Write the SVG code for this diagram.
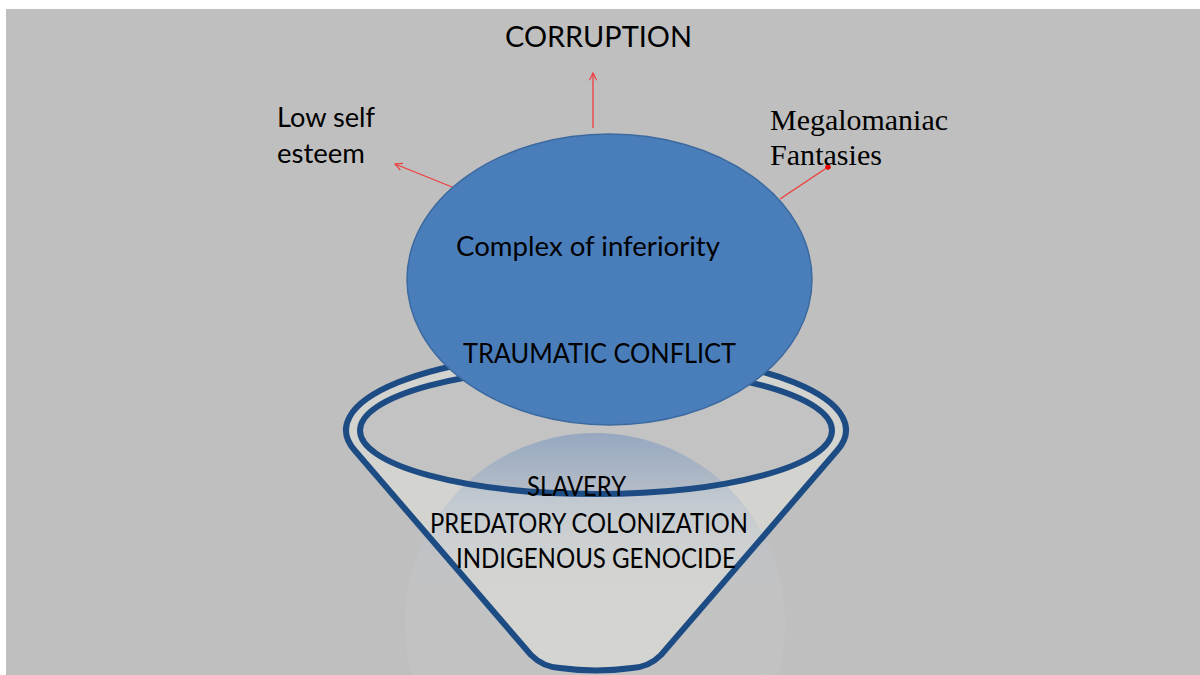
<svg xmlns="http://www.w3.org/2000/svg" width="1200" height="675" viewBox="0 0 1200 675">
  <style>
    .sans { font-family: Lato, "Open Sans", "Liberation Sans", sans-serif; fill: #000; }
    .serif { font-family: "Liberation Serif", "Times New Roman", serif; fill: #000; }
    .conn { stroke: #f03c3c; stroke-width: 1.3; fill: none; }
    .rim { stroke: #1d4c84; stroke-width: 6; fill: none; }
  </style>
  <defs>
    <marker id="openArrow" viewBox="0 0 10 10" refX="9" refY="5" markerWidth="9" markerHeight="9" markerUnits="userSpaceOnUse" orient="auto">
      <path d="M1,1 L9,5 L1,9" fill="none" stroke="#f03c3c" stroke-width="1.3"/>
    </marker>
    <marker id="dot" viewBox="0 0 10 10" refX="5" refY="5" markerWidth="6" markerHeight="6" markerUnits="userSpaceOnUse" orient="auto">
      <circle cx="5" cy="5" r="4.5" fill="#e80000"/>
    </marker>
    <linearGradient id="sphereGrad" x1="0" y1="0" x2="0" y2="1">
      <stop offset="0" stop-color="#5f86bd" stop-opacity="0.45"/>
      <stop offset="0.2" stop-color="#a9bbd2" stop-opacity="0.35"/>
      <stop offset="0.4" stop-color="#d4d8dc" stop-opacity="0.15"/>
      <stop offset="1" stop-color="#e0e0e0" stop-opacity="0.05"/>
    </linearGradient>
  </defs>

  <rect x="0" y="0" width="1200" height="675" fill="#ffffff"/>
  <rect x="6" y="9" width="1194" height="666" fill="#bfbfbf"/>

  <g id="funnel">
    <path d="M354.6,450.3 L531,655 Q543,667 560,668 Q596,673 632,668 Q649,667 661,655 L837.4,450.3 A250,78 0 1 0 354.6,450.3 Z" fill="#d3d3cf"/>
    <ellipse cx="596" cy="430.5" rx="236" ry="63.5" fill="#c3c3c3"/>
    <circle cx="595" cy="623" r="190" fill="url(#sphereGrad)"/>
    <path class="rim" d="M354.6,450.3 L531,655 Q543,667 560,668 Q596,673 632,668 Q649,667 661,655 L837.4,450.3 A250,78 0 1 0 354.6,450.3 Z"/>
    <ellipse class="rim" cx="596" cy="430.5" rx="236" ry="63.5"/>
    <text class="sans" x="527" y="496" font-size="27" textLength="99" lengthAdjust="spacingAndGlyphs">SLAVERY</text>
    <text class="sans" x="430" y="533" font-size="27" textLength="318" lengthAdjust="spacingAndGlyphs">PREDATORY COLONIZATION</text>
    <text class="sans" x="456" y="568" font-size="27" textLength="280" lengthAdjust="spacingAndGlyphs">INDIGENOUS GENOCIDE</text>
  </g>

  <g id="core">
    <ellipse cx="609.5" cy="279.5" rx="202.5" ry="145.5" fill="#4a7ebb" stroke="#3c6a9f" stroke-width="1.5"/>
    <text class="sans" x="456" y="256" font-size="26" textLength="264" lengthAdjust="spacingAndGlyphs">Complex of inferiority</text>
    <text class="sans" x="463" y="363" font-size="26" textLength="273" lengthAdjust="spacingAndGlyphs">TRAUMATIC CONFLICT</text>
  </g>

  <g id="connectors">
    <line class="conn" x1="593" y1="128" x2="593" y2="73" marker-end="url(#openArrow)"/>
    <line class="conn" x1="452" y1="187" x2="395" y2="164" marker-end="url(#openArrow)"/>
    <line class="conn" x1="780" y1="199" x2="828" y2="167" marker-end="url(#dot)"/>
  </g>

  <g id="corruption">
    <text class="sans" x="505" y="47" font-size="28" textLength="187" lengthAdjust="spacingAndGlyphs">CORRUPTION</text>
  </g>
  <g id="low-self-esteem">
    <text class="sans" x="277" y="127" font-size="26" textLength="98" lengthAdjust="spacingAndGlyphs">Low self</text>
    <text class="sans" x="277" y="163" font-size="26" textLength="88" lengthAdjust="spacingAndGlyphs">esteem</text>
  </g>
  <g id="megalomaniac">
    <text class="serif" x="770" y="130" font-size="30" textLength="178" lengthAdjust="spacingAndGlyphs">Megalomaniac</text>
    <text class="serif" x="770" y="165" font-size="30" textLength="112" lengthAdjust="spacingAndGlyphs">Fantasies</text>
  </g>
</svg>
